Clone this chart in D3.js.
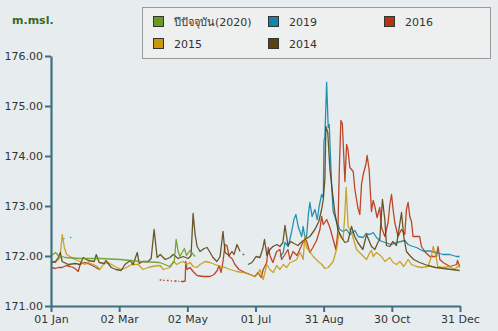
<!DOCTYPE html>
<html><head><meta charset="utf-8">
<script src="https://cdn.jsdelivr.net/npm/d3@7"></script>
<style>body{margin:0;background:#e7edef} svg{display:block}</style>
</head><body><svg id="c" width="498" height="331"></svg>
<script>
const yTicks = [171, 172, 173, 174, 175, 176];
const xTickLabels = ["01 Jan", "02 Mar", "02 May", "01 Jul", "31 Aug", "30 Oct", "31 Dec"];
const seriesNames = ["ปีปัจจุบัน(2020)", "2019", "2016", "2015", "2014"];
const seriesColors = ["#6a9a22", "#0f86a8", "#b8330f", "#c8990f", "#5a4414"];

// [day of year, m.msl.]
const s2020 = [[0,172.00],[4,172.07],[6.5,172.01],[12.7,171.97],[26,171.95],[44,171.95],[62,171.93],[80,171.89],[97,171.87],[106,171.79],[110,171.89],[111.7,172.33],[113.5,172.09],[115,171.99],[119,172.15],[121,172.01],[124,172.11],[127,172.03],[128.6,171.99]];

const s2019 = [[11,172.35],[12,172.35],[12.5,null],[17,172.37],[18,172.37],[18.5,null],
[204.3,171.99],[207.3,172.07],[208.8,172.27],[211.7,172.19],[214.8,172.49],[216.8,172.73],[218.6,172.83],[220.6,172.59],[223.7,172.39],[225,172.59],[226.6,172.37],[228,172.37],[229.7,172.83],[231,173.07],[233,172.79],[235.5,172.93],[237.6,172.73],[239.3,172.99],[241.5,173.23],[243,173.17],[243.6,174.29],[244.4,174.39],[246,175.47],[247.4,174.57],[248.3,174.63],[250.4,173.43],[251.8,172.89],[254.8,172.69],[257.8,172.53],[260.7,172.49],[263.8,172.53],[266.7,172.43],[271.2,172.51],[274.1,172.39],[278.6,172.37],[281,172.45],[284.5,172.43],[287.5,172.47],[290.5,172.37],[293.4,172.31],[297.9,172.27],[303.9,172.23],[308.3,172.27],[312.2,172.29],[315.7,172.31],[318.7,172.23],[321.7,172.20],[326.2,172.17],[332,172.10],[338,172.10],[344,172.07],[349.8,172.03],[355.8,172.03],[361.8,171.99],[364.7,171.99]];

const s2016 = [[0,171.77],[4,171.75],[6.5,171.77],[10,171.77],[13.6,171.81],[17,171.79],[20,171.77],[22.5,171.73],[24.3,171.69],[26,171.83],[29.7,171.87],[33,171.85],[36.8,171.81],[40,171.77],[43,171.73],[44,null],
[97,171.52],[98.5,171.52],[99,null],[100,171.52],[101.5,171.51],[102,null],[103.5,171.51],[105,171.51],[105.5,null],[107,171.50],[108,171.50],[108.5,null],[110,171.50],[112,171.50],[112.5,null],[113.5,171.50],[114.5,171.49],[115,null],[116,171.49],[118,171.49],[119.7,171.50],
[120.3,171.89],[121.5,171.73],[124,171.77],[126.8,171.69],[130.4,171.61],[135.7,171.59],[142,171.59],[145.5,171.63],[148.3,171.71],[150,171.81],[151.8,171.67],[153.5,171.89],[155.3,172.23],[157,172.21],[159,171.99],[161.5,171.95],[164.2,171.83],[167.8,171.73],[173.2,171.67],[177.6,171.63],[182,171.59],[184.8,171.67],[187.5,171.57],[189.4,171.73],[192.5,171.87],[193.9,172.17],[195.4,172.01],[198,171.87],[201.4,172.09],[204.3,172.13],[205.8,171.93],[208.8,172.03],[211.5,172.13],[213.2,171.93],[216,172.09],[219.5,172.01],[222,172.13],[224.8,172.27],[228,172.31],[231,172.07],[233.7,172.17],[237,172.31],[240,172.53],[241.5,172.79],[243,172.63],[246,172.73],[248.9,172.57],[251.8,172.33],[254.2,172.13],[256,172.49],[257.3,173.73],[258.7,174.71],[260,174.65],[261.4,173.93],[262.3,173.49],[263.8,174.23],[265,174.13],[266.7,173.77],[269.7,173.69],[271.2,173.33],[273.8,172.97],[275.6,172.83],[277.1,173.43],[278.6,173.63],[281,173.83],[282.1,174.01],[283.9,173.73],[286,172.89],[287.5,173.11],[289,172.99],[291,172.77],[293.4,172.97],[295,172.57],[297.9,172.39],[300.8,172.67],[302.4,173.03],[303.9,173.23],[305.3,172.93],[306.8,172.67],[309.7,172.39],[312.8,172.53],[315.7,172.43],[317.2,172.93],[318.7,173.07],[320.2,172.79],[321.7,172.69],[323.1,172.39],[326.2,172.39],[329,172.39],[330.6,172.19],[333.5,172.09],[338,171.99],[344,171.99],[345.4,172.19],[347,171.93],[350,171.87],[356,171.79],[362,171.83],[362.8,171.91],[364.7,171.79]];

const s2015 = [[0,171.89],[4,171.87],[8,171.97],[9.2,172.23],[10,172.43],[11.9,172.17],[13.9,172.03],[17,171.99],[21.4,171.93],[25.8,171.89],[30.3,171.83],[33.2,171.87],[37.7,171.83],[41.3,171.79],[43.7,171.73],[46.6,171.83],[51,171.87],[57,171.79],[63,171.73],[67.4,171.77],[71.8,171.83],[77.8,171.83],[82.2,171.73],[86.7,171.77],[92.7,171.80],[97.4,171.81],[100.3,171.73],[106.3,171.77],[109.2,171.89],[112.3,171.83],[115.2,171.87],[118.2,171.89],[121.2,171.83],[124.1,171.87],[127,171.79],[130.1,171.77],[133,171.83],[137.5,171.89],[142,171.87],[146.4,171.83],[150.9,171.79],[155.3,171.77],[159.8,171.73],[165.7,171.69],[171.6,171.67],[177.6,171.63],[182,171.59],[184.8,171.65],[186.5,171.73],[189.4,171.53],[192.5,171.83],[195.4,171.73],[198.4,171.67],[201.4,171.81],[204.3,171.73],[207.3,171.83],[210.3,171.77],[213.2,171.87],[216.2,171.89],[219.2,171.93],[222.2,172.07],[223.7,172.01],[225,171.93],[226.6,172.41],[228,172.17],[231,172.09],[234,171.99],[238.5,171.89],[241.8,171.83],[244.4,171.75],[247.4,171.77],[248.9,171.81],[251.8,171.89],[254.8,172.13],[257.2,172.47],[259.1,172.37],[260.7,172.33],[262.2,172.83],[263.4,173.37],[265.2,172.59],[268.2,172.47],[272.7,172.13],[277.1,172.03],[281.6,171.93],[284.5,172.07],[286,172.11],[287.5,171.99],[290.5,172.07],[295,171.99],[298,171.89],[302.4,171.97],[305.3,171.87],[308.3,171.83],[311.3,171.89],[314.8,171.79],[318.7,171.93],[321.7,171.83],[326.2,171.79],[330.6,171.77],[336.5,171.79],[339.5,171.99],[341,172.19],[343.3,172.03],[345.1,171.79],[349.8,171.77],[355.8,171.79],[360.3,171.73],[363.3,171.80],[364.7,171.77]];

const s2014 = [[0,171.87],[4,171.89],[6.5,171.97],[8.3,172.07],[10,171.89],[15.4,171.83],[21.7,171.85],[26,171.83],[28.8,171.97],[33,171.91],[38.6,171.89],[40.4,172.03],[43,171.87],[47.5,171.85],[49,171.91],[53.7,171.77],[58,171.73],[62.6,171.71],[66,171.83],[70.7,171.91],[73.3,171.83],[77,172.07],[78.7,171.85],[82,171.89],[86.7,171.89],[89.4,171.95],[92,172.53],[94.7,171.97],[97.5,172.03],[102,171.93],[106.3,171.97],[109,172.03],[113.5,171.95],[118,171.99],[122.5,171.95],[125,172.01],[126.8,172.85],[128.6,172.43],[130.4,172.19],[133,172.09],[136.6,172.15],[139.3,172.17],[142,172.07],[144.6,171.97],[148,171.89],[150.9,171.99],[153.5,172.49],[155.3,172.07],[159,172.01],[161.5,172.09],[163.3,172.03],[166,172.23],[168.7,172.09],[169.5,null],[171,172.03],[172.5,172.03],[173.5,null],
[175.8,171.83],[179.4,171.87],[183,171.99],[186.5,171.97],[189,172.15],[190.5,172.33],[192.7,172.01],[195.4,172.13],[198,172.19],[201.7,172.23],[204.3,172.19],[207,172.27],[208.8,172.61],[211.5,172.21],[214,172.29],[216.8,172.25],[220.4,172.21],[224,172.29],[226.6,172.33],[231,172.39],[235.5,172.53],[239,172.69],[241.5,172.93],[243,173.13],[244.4,173.53],[245.3,174.59],[247,174.47],[248.9,173.73],[250.7,173.37],[253.3,172.87],[256,172.53],[259.3,172.37],[262.3,172.27],[265,172.29],[268.2,172.59],[271,172.39],[273.8,172.27],[278.3,172.13],[281.6,172.43],[286,172.19],[289,172.13],[291.7,172.27],[293.4,172.33],[295.8,173.13],[297.9,172.73],[299.4,172.21],[302.4,172.19],[305,172.29],[308.3,172.21],[312.8,172.87],[314.8,172.39],[317.2,172.09],[320.2,172.01],[323.7,171.93],[329,171.87],[336.2,171.81],[343.3,171.77],[350.4,171.75],[357.5,171.73],[364.7,171.71]];

const seriesData = [s2020, s2019, s2016, s2015, s2014];
const drawOrder = [2, 1, 3, 4, 0];

const svg = d3.select("#c");
svg.append("rect").attr("width", 498).attr("height", 331).attr("fill", "#e7edef");

const x = d3.scaleLinear().domain([0, 365]).range([51, 460]);
const y = d3.scaleLinear().domain([171, 176]).range([306, 56]);
const axisColor = "#3f6f80";
const font = "'DejaVu Sans', 'Noto Sans', sans-serif";

// lines
const line = d3.line().defined(d => d[1] != null).x(d => x(d[0])).y(d => y(d[1]));
const g = svg.append("g");
drawOrder.forEach(i => {
  g.append("path").datum(seriesData[i])
    .attr("fill", "none").attr("stroke", seriesColors[i])
    .attr("stroke-width", 1.3).attr("stroke-opacity", 0.9)
    .attr("stroke-linejoin", "round").attr("d", line);
});

// axes
const yAxis = svg.append("g").attr("transform", "translate(51,0)")
  .call(d3.axisLeft(y).tickValues(yTicks).tickFormat(d3.format(".2f")).tickSize(6).tickSizeOuter(0).tickPadding(2));
const xTickVals = xTickLabels.map((_, i) => i * 365 / (xTickLabels.length - 1));
const xAxis = svg.append("g").attr("transform", "translate(0,306)")
  .call(d3.axisBottom(x).tickValues(xTickVals).tickFormat((d, i) => xTickLabels[i]).tickSize(6).tickSizeOuter(0).tickPadding(3));
[yAxis, xAxis].forEach(a => {
  a.select(".domain").attr("stroke", axisColor).attr("stroke-width", 2.2);
  a.selectAll(".tick line").attr("stroke", axisColor).attr("stroke-width", 2);
  a.selectAll(".tick text").attr("fill", "#333").style("font-family", font).style("font-size", "11px");
});

// unit label
svg.append("text").attr("x", 12).attr("y", 24).text("m.msl.")
  .attr("fill", "#3b6a1c").style("font-family", font).style("font-size", "11px").style("font-weight", "bold");

// legend
const lg = svg.append("g");
lg.append("rect").attr("x", 142.5).attr("y", 7.5).attr("width", 348).attr("height", 51)
  .attr("fill", "#eef0f0").attr("stroke", "#9a9a9a");
const colX = [153, 268, 384], rowY = [16, 38];
seriesNames.forEach((name, i) => {
  const cx = colX[i % 3], cy = rowY[Math.floor(i / 3)];
  lg.append("rect").attr("x", cx + 0.5).attr("y", cy + 0.5).attr("width", 10).attr("height", 10)
    .attr("fill", seriesColors[i]).attr("stroke", "#333").attr("stroke-width", 1);
  lg.append("text").attr("x", cx + 21).attr("y", cy + 9.5).text(name)
    .attr("fill", "#333").style("font-family", font).style("font-size", "11px");
});
</script></body></html>
